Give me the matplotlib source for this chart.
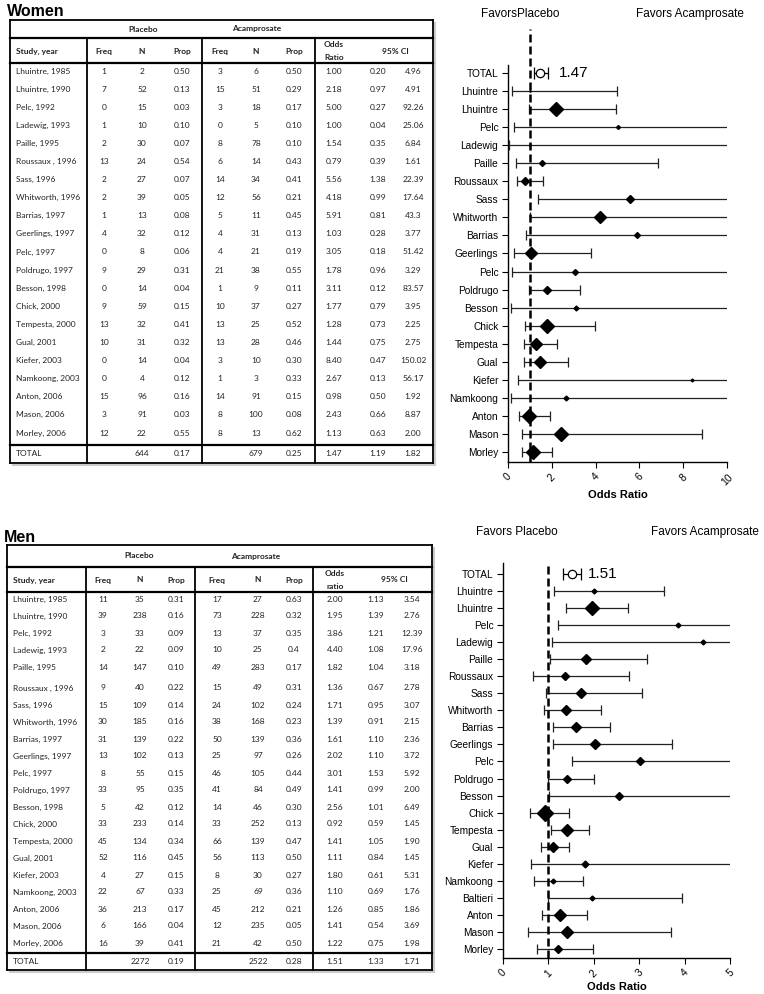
import matplotlib
matplotlib.use('Agg')
import matplotlib.pyplot as plt
from matplotlib.lines import Line2D

# ---------------- DATA ----------------
women_study = ["Lhuintre, 1985", "Lhuintre, 1990", "Pelc, 1992", "Ladewig, 1993", "Paille, 1995",
               "Roussaux , 1996", "Sass, 1996", "Whitworth, 1996", "Barrias, 1997", "Geerlings, 1997",
               "Pelc, 1997", "Poldrugo, 1997", "Besson, 1998", "Chick, 2000", "Tempesta, 2000",
               "Gual, 2001", "Kiefer, 2003", "Namkoong, 2003", "Anton, 2006", "Mason, 2006", "Morley, 2006"]
women_pl_freq = ["1", "7", "0", "1", "2", "13", "2", "2", "1", "4", "0", "9", "0", "9", "13", "10", "0", "0", "15", "3", "12"]
women_pl_n = ["2", "52", "15", "10", "30", "24", "27", "39", "13", "32", "8", "29", "14", "59", "32", "31", "14", "4", "96", "91", "22"]
women_pl_prop = ["0.50", "0.13", "0.03", "0.10", "0.07", "0.54", "0.07", "0.05", "0.08", "0.12", "0.06", "0.31",
                 "0.04", "0.15", "0.41", "0.32", "0.04", "0.12", "0.16", "0.03", "0.55"]
women_ac_freq = ["3", "15", "3", "0", "8", "6", "14", "12", "5", "4", "4", "21", "1", "10", "13", "13", "3", "1", "14", "8", "8"]
women_ac_n = ["6", "51", "18", "5", "78", "14", "34", "56", "11", "31", "21", "38", "9", "37", "25", "28", "10", "3", "91", "100", "13"]
women_ac_prop = ["0.50", "0.29", "0.17", "0.10", "0.10", "0.43", "0.41", "0.21", "0.45", "0.13", "0.19", "0.55",
                 "0.11", "0.27", "0.52", "0.46", "0.30", "0.33", "0.15", "0.08", "0.62"]
women_or = ["1.00", "2.18", "5.00", "1.00", "1.54", "0.79", "5.56", "4.18", "5.91", "1.03", "3.05", "1.78",
            "3.11", "1.77", "1.28", "1.44", "8.40", "2.67", "0.98", "2.43", "1.13"]
women_lo = ["0.20", "0.97", "0.27", "0.04", "0.35", "0.39", "1.38", "0.99", "0.81", "0.28", "0.18", "0.96",
            "0.12", "0.79", "0.73", "0.75", "0.47", "0.13", "0.50", "0.66", "0.63"]
women_hi = ["4.96", "4.91", "92.26", "25.06", "6.84", "1.61", "22.39", "17.64", "43.3", "3.77", "51.42", "3.29",
            "83.57", "3.95", "2.25", "2.75", "150.02", "56.17", "1.92", "8.87", "2.00"]
women_total = ["TOTAL", "", "644", "0.17", "", "679", "0.25", "1.47", "1.19", "1.82"]
women_weight = [0.8, 7, 2, 1, 3, 4.5, 4.5, 6.5, 3, 6, 3, 4.5, 2.5, 7, 6, 6, 1.5, 2.5, 7, 7, 7]

men_study = ["Lhuintre, 1985", "Lhuintre, 1990", "Pelc, 1992", "Ladewig, 1993", "Paille, 1995",
             "Roussaux , 1996", "Sass, 1996", "Whitworth, 1996", "Barrias, 1997", "Geerlings, 1997",
             "Pelc, 1997", "Poldrugo, 1997", "Besson, 1998", "Chick, 2000", "Tempesta, 2000",
             "Gual, 2001", "Kiefer, 2003", "Namkoong, 2003", "Anton, 2006", "Mason, 2006", "Morley, 2006"]
men_pl_freq = ["11", "39", "3", "2", "14", "9", "15", "30", "31", "13", "8", "33", "5", "33", "45", "52", "4", "22", "36", "6", "16"]
men_pl_n = ["35", "238", "33", "22", "147", "40", "109", "185", "139", "102", "55", "95", "42", "233", "134", "116", "27", "67", "213", "166", "39"]
men_pl_prop = ["0.31", "0.16", "0.09", "0.09", "0.10", "0.22", "0.14", "0.16", "0.22", "0.13", "0.15", "0.35",
               "0.12", "0.14", "0.34", "0.45", "0.15", "0.33", "0.17", "0.04", "0.41"]
men_ac_freq = ["17", "73", "13", "10", "49", "15", "24", "38", "50", "25", "46", "41", "14", "33", "66", "56", "8", "25", "45", "12", "21"]
men_ac_n = ["27", "228", "37", "25", "283", "49", "102", "168", "139", "97", "105", "84", "46", "252", "139", "113", "30", "69", "212", "235", "42"]
men_ac_prop = ["0.63", "0.32", "0.35", "0.4", "0.17", "0.31", "0.24", "0.23", "0.36", "0.26", "0.44", "0.49",
               "0.30", "0.13", "0.47", "0.50", "0.27", "0.36", "0.21", "0.05", "0.50"]
men_or = ["2.00", "1.95", "3.86", "4.40", "1.82", "1.36", "1.71", "1.39", "1.61", "2.02", "3.01", "1.41",
          "2.56", "0.92", "1.41", "1.11", "1.80", "1.10", "1.26", "1.41", "1.22"]
men_lo = ["1.13", "1.39", "1.21", "1.08", "1.04", "0.67", "0.95", "0.91", "1.10", "1.10", "1.53", "0.99",
          "1.01", "0.59", "1.05", "0.84", "0.61", "0.69", "0.85", "0.54", "0.75"]
men_hi = ["3.54", "2.76", "12.39", "17.96", "3.18", "2.78", "3.07", "2.15", "2.36", "3.72", "5.92", "2.00",
          "6.49", "1.45", "1.90", "1.45", "5.31", "1.76", "1.86", "3.69", "1.98"]
men_total = ["TOTAL", "", "2272", "0.19", "", "2522", "0.28", "1.51", "1.33", "1.71"]
men_weight = [2.5, 7, 2.5, 2.5, 5.5, 4, 5, 5.5, 5.5, 5, 4, 4, 4, 8, 6.5, 5, 3.5, 2.5, 6, 6.5, 4]

# study only in the men's forest plot (after Namkoong)
baltieri_label = "Baltieri"
baltieri_or, baltieri_lo, baltieri_hi, baltieri_weight = 1.97, 1.00, 3.94, 2.5

# ---------------- FIGURE ----------------
W, H = 764, 994
fig = plt.figure(figsize=(W / 100, H / 100), dpi=100)
TFONT = ['Lato', 'DejaVu Sans']
AFONT = ['Liberation Sans', 'DejaVu Sans']


def fx(x):
    return x / W


def fy(y):
    return 1 - y / H


def hline(x0, x1, y, lw=1.0):
    fig.add_artist(Line2D([fx(x0), fx(x1)], [fy(y), fy(y)], color='black', lw=lw,
                          transform=fig.transFigure, solid_capstyle='projecting'))


def vline(x, y0, y1, lw=1.0):
    fig.add_artist(Line2D([fx(x), fx(x)], [fy(y0), fy(y1)], color='black', lw=lw,
                          transform=fig.transFigure, solid_capstyle='projecting'))


def txt(x, y, s, ha='center', bold=False, size=6.0, family=TFONT):
    fig.text(fx(x), fy(y), s, ha=ha, va='center', fontsize=size,
             fontweight='bold' if bold else 'normal', family=family, color='#222222')


def draw_table(title, title_y, left, right, top, h1, h2, tot_line, bottom, vx, colx,
               header_y, row_ys, total_y, cols, total, odds_word):
    fig.text(fx(left - 3), fy(title_y), title, ha='left', va='center', fontsize=11.5,
             fontweight='bold', family=AFONT)
    # shadow
    fig.add_artist(Line2D([fx(right + 2), fx(right + 2)], [fy(top + 3), fy(bottom + 2)],
                          color='#cccccc', lw=1.5, transform=fig.transFigure))
    fig.add_artist(Line2D([fx(left + 3), fx(right + 2)], [fy(bottom + 2), fy(bottom + 2)],
                          color='#cccccc', lw=1.5, transform=fig.transFigure))
    hline(left, right, top, 1.3)
    hline(left, right, h1, 1.6)
    hline(left, right, h2, 1.6)
    hline(left, right, tot_line, 1.6)
    hline(left, right, bottom, 1.3)
    vline(left, top, bottom, 1.3)
    vline(right, top, bottom, 1.3)
    for x in vx:
        vline(x, h1, bottom, 1.3)
    ph = (top + h1) / 2
    txt((colx[0] + colx[2]) / 2, ph, "Placebo", bold=True)
    txt((colx[3] + colx[5]) / 2, ph, "Acamprosate", bold=True)
    txt(left + 6, header_y, "Study, year", ha='left', bold=True)
    for x, s in zip(colx[:6], ["Freq", "N", "Prop", "Freq", "N", "Prop"]):
        txt(x, header_y, s, bold=True)
    txt(colx[6], header_y - 6.5, "Odds", bold=True)
    txt(colx[6], header_y + 6.5, odds_word, bold=True)
    txt((colx[7] + colx[8]) / 2, header_y, "95% CI", bold=True)
    for i, y in enumerate(row_ys):
        txt(left + 6, y, cols[0][i], ha='left')
        for j in range(9):
            txt(colx[j], y, cols[j + 1][i])
    txt(left + 6, total_y, total[0], ha='left')
    for j in range(9):
        txt(colx[j], total_y, total[j + 1])


# Women table
w_rows = [71 + i * 18.1 for i in range(len(women_study))]
draw_table("Women", 11, 10, 433, 20, 38, 63, 445, 463, [87, 202, 315],
           [104, 142, 182, 220, 256, 294, 334, 378, 413], 51, w_rows, 454,
           [women_study, women_pl_freq, women_pl_n, women_pl_prop, women_ac_freq, women_ac_n,
            women_ac_prop, women_or, women_lo, women_hi], women_total, "Ratio")

# Men table
m_rows = [599 + i * 17.0 + (4 if i >= 5 else 0) for i in range(len(men_study))]
draw_table("Men", 537, 7, 432, 545, 567, 592, 953, 970, [86, 195, 313],
           [103, 140, 176, 217, 258, 294, 335, 376, 412], 580, m_rows, 961,
           [men_study, men_pl_freq, men_pl_n, men_pl_prop, men_ac_freq, men_ac_n,
            men_ac_prop, men_or, men_lo, men_hi], men_total, "ratio")


# ---------------- FOREST PLOTS ----------------
def forest(rect_px, labels, ors, los, his, weights, tot, xmax, xticks, ylim, dash_top,
           favors_y, favors_x, tot_text_dx):
    l, r, t, b = rect_px
    ax = fig.add_axes([fx(l), fy(b), (r - l) / W, (b - t) / H])
    n = len(labels)
    ys = list(range(n + 1))
    # total
    t_or, t_lo, t_hi = tot
    ax.errorbar([t_or], [0], xerr=[[t_or - t_lo], [t_hi - t_or]], fmt='o', ms=6,
                mfc='white', mec='black', mew=0.9, ecolor='black', elinewidth=0.9,
                capsize=4, capthick=0.9, zorder=4)
    ax.text(t_or + tot_text_dx, 0, "%.2f" % t_or, ha='left', va='center', fontsize=11,
            family=AFONT)
    for i in range(n):
        o, lo, hi = ors[i], los[i], his[i]
        ax.errorbar([o], [i + 1], xerr=[[o - lo], [hi - o]], fmt='none', ecolor='#222222',
                    elinewidth=0.9, capsize=3.5, capthick=0.9, zorder=3)
        ax.plot([o], [i + 1], marker='D', ms=weights[i], color='black', zorder=4)
    ax.plot([1, 1], [ylim[0], dash_top], ls=(0, (3.2, 1.6)), lw=1.8, color='black',
            clip_on=False, zorder=5)
    ax.set_xlim(0, xmax)
    ax.set_ylim(*ylim)
    ax.set_yticks(ys)
    ax.set_yticklabels(["TOTAL"] + labels, fontsize=7.3, family=AFONT)
    ax.set_xticks(xticks)
    ax.set_xticklabels([str(v) for v in xticks], rotation=45, fontsize=7.5, family=AFONT,
                       ha='center')
    ax.tick_params(axis='both', length=4, width=0.8, direction='out', pad=3)
    for s in ['top', 'right']:
        ax.spines[s].set_visible(False)
    for s in ['left', 'bottom']:
        ax.spines[s].set_linewidth(1.0)
    ax.set_xlabel("Odds Ratio", fontsize=8, fontweight='bold', family=AFONT, labelpad=2)
    fig.text(fx(favors_x[0]), fy(favors_y), favors_x[2], ha='center', va='center',
             fontsize=8.5, family=AFONT)
    fig.text(fx(favors_x[1]), fy(favors_y), favors_x[3], ha='center', va='center',
             fontsize=8.5, family=AFONT)
    return ax


w_labels = [s.split(",")[0].strip() for s in women_study]
forest((508, 727, 65, 462), w_labels, [float(v) for v in women_or], [float(v) for v in women_lo],
       [float(v) for v in women_hi], women_weight,
       (float(women_total[7]), float(women_total[8]), float(women_total[9])),
       10, [0, 2, 4, 6, 8, 10], (21.55, -0.44), -2.44, 14, (520, 690, "FavorsPlacebo", "Favors Acamprosate"), 0.85)

m_labels = [s.split(",")[0].strip() for s in men_study]
m_or = [float(v) for v in men_or]
m_lo = [float(v) for v in men_lo]
m_hi = [float(v) for v in men_hi]
m_w = list(men_weight)
k = m_labels.index("Namkoong") + 1
m_labels.insert(k, baltieri_label)
m_or.insert(k, baltieri_or)
m_lo.insert(k, baltieri_lo)
m_hi.insert(k, baltieri_hi)
m_w.insert(k, baltieri_weight)
forest((503, 730, 563, 958), m_labels, m_or, m_lo, m_hi, m_w,
       (float(men_total[7]), float(men_total[8]), float(men_total[9])),
       5, [0, 1, 2, 3, 4, 5], (22.53, -0.645), -0.645, 532, (517, 705, "Favors Placebo", "Favors Acamprosate"), 0.36)

fig.savefig("out.png", dpi=100)
